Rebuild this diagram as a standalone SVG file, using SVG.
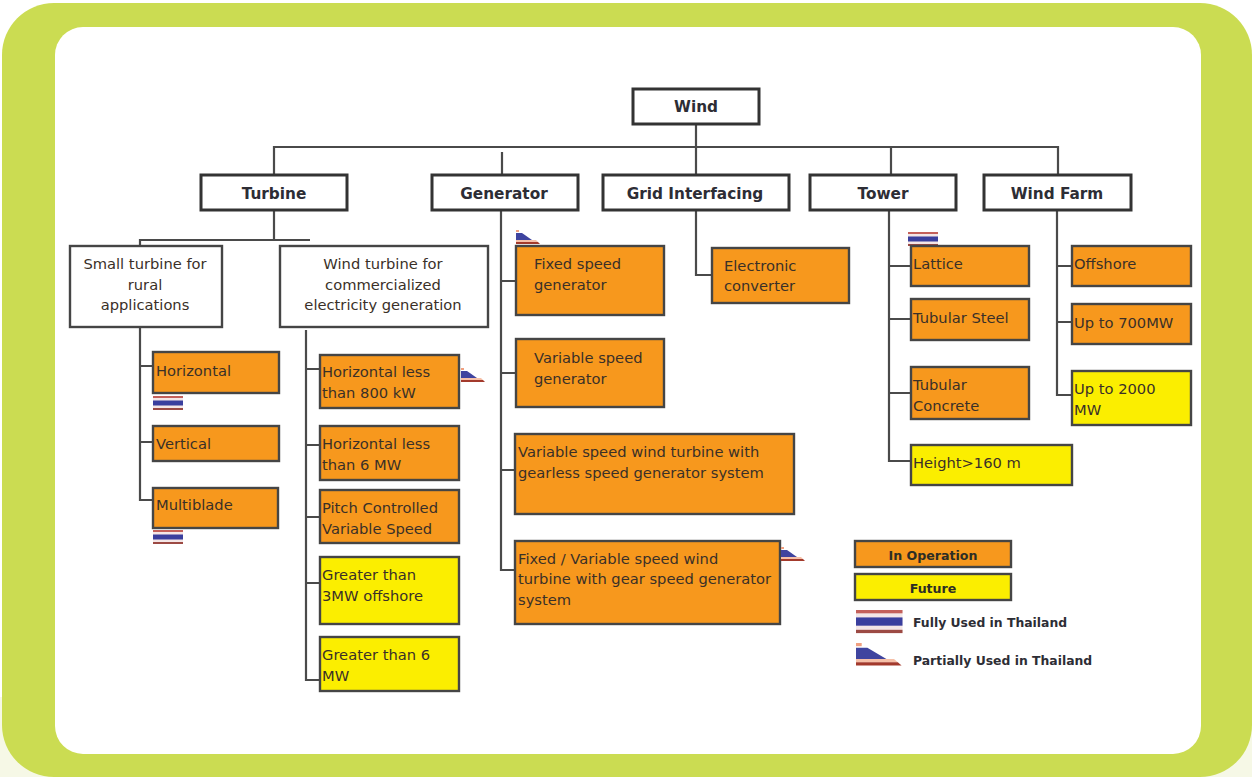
<svg xmlns="http://www.w3.org/2000/svg" width="1252" height="777" viewBox="0 0 1252 777">
<style>
text{font-family:"DejaVu Sans","Liberation Sans",sans-serif;font-size:14.7px;fill:#3a3028}
.b{stroke:#454545;stroke-width:2.4}
.t{stroke:#333;stroke-width:3}
.w{fill:#fff}.o{fill:#f7981d}.y{fill:#fbee00}
.h{font-weight:bold;font-size:15.3px;fill:#2d2d35;text-anchor:middle}
.c{text-anchor:middle}
.l{font-weight:bold;font-size:12.4px;fill:#2d2d35}
.m{text-anchor:middle;font-weight:bold;font-size:12.6px;fill:#2d2d25}
#conn path{fill:none;stroke:#4a4a4a;stroke-width:2.2}
</style>
<defs>
<g id="full"><rect width="30" height="14" fill="#f4e6e6"/><rect width="30" height="2" fill="#c4605a"/><rect y="4.5" width="30" height="5" fill="#3a3f9e"/><rect y="12" width="30" height="2" fill="#9c4a44"/></g>
<g id="part"><path d="M0 0h3v2h-3z" fill="#f0a080"/><path d="M0 3h6l10 7H0z" fill="#3f449f"/><path d="M0 10h20l2 2H0z" fill="#f6c0a8"/><path d="M0 12h22l2 2H0z" fill="#a33a2c"/></g>
</defs>
<rect width="1252" height="777" fill="#fff"/>
<rect y="697" width="1252" height="80" fill="#f6f8e6"/>
<rect x="2" y="3" width="1250" height="774" rx="52" fill="#cbdc52"/>
<rect x="55" y="27" width="1146" height="727" rx="28" fill="#fff"/>
<g id="conn">
<path d="M696 124V174M274 174V147H1058V174M502 152V174M891 147V174"/>
<path d="M274 211V240M140 245V240H310"/>
<path d="M140 327V500H153M140 366H153M140 442H153"/>
<path d="M306 330V680H320M306 369H320M306 445H320M306 517H320M306 583H320"/>
<path d="M501 211V570H515M501 281H516M501 373H516M501 470H515"/>
<path d="M696 211V275H712"/>
<path d="M889 211V461H911M889 266H912M889 319H912M889 393H912"/>
<path d="M1057 211V395H1072M1057 266H1072M1057 322H1072"/>
</g>
<g id="wind"><rect class="w t" x="633" y="89" width="126" height="35"/><text class="h" x="696" y="112">Wind</text></g>
<g id="turbine"><rect class="w t" x="201" y="175" width="146" height="35"/><text class="h" x="274" y="199">Turbine</text></g>
<g id="generator"><rect class="w t" x="432" y="175" width="146" height="35"/><text class="h" x="504" y="199">Generator</text></g>
<g id="grid"><rect class="w t" x="603" y="175" width="186" height="35"/><text class="h" x="695" y="199">Grid Interfacing</text></g>
<g id="tower"><rect class="w t" x="810" y="175" width="146" height="35"/><text class="h" x="883" y="199">Tower</text></g>
<g id="farm"><rect class="w t" x="984" y="175" width="147" height="35"/><text class="h" x="1057" y="199">Wind Farm</text></g>
<g id="small"><rect class="w b" x="70" y="246" width="152" height="81"/><text class="c" x="145" y="269">Small turbine for</text><text class="c" x="145" y="290">rural</text><text class="c" x="145" y="310">applications</text></g>
<g id="commercial"><rect class="w b" x="280" y="246" width="208" height="81"/><text class="c" x="383" y="269">Wind turbine for</text><text class="c" x="383" y="290">commercialized</text><text class="c" x="383" y="310">electricity generation</text></g>
<g id="horizontal"><rect class="o b" x="153" y="352" width="126" height="41"/><text x="156" y="376">Horizontal</text></g>
<use href="#full" x="153" y="396"/>
<g id="vertical"><rect class="o b" x="153" y="426" width="126" height="35"/><text x="156" y="449">Vertical</text></g>
<g id="multiblade"><rect class="o b" x="153" y="488" width="125" height="40"/><text x="156" y="510">Multiblade</text></g>
<use href="#full" x="153" y="530"/>
<g id="h800"><rect class="o b" x="320" y="355" width="139" height="53"/><text x="322" y="377">Horizontal less</text><text x="322" y="398">than 800 kW</text></g>
<use href="#part" x="461" y="368"/>
<g id="h6"><rect class="o b" x="320" y="426" width="139" height="54"/><text x="322" y="449">Horizontal less</text><text x="322" y="470">than 6 MW</text></g>
<g id="pitch"><rect class="o b" x="320" y="490" width="139" height="53"/><text x="322" y="513">Pitch Controlled</text><text x="322" y="534">Variable Speed</text></g>
<g id="g3"><rect class="y b" x="320" y="557" width="139" height="67"/><text x="322" y="580">Greater than</text><text x="322" y="601">3MW offshore</text></g>
<g id="g6"><rect class="y b" x="320" y="637" width="139" height="54"/><text x="322" y="660">Greater than 6</text><text x="322" y="681">MW</text></g>
<use href="#part" x="516" y="230"/>
<g id="fixed"><rect class="o b" x="516" y="246" width="148" height="69"/><text x="534" y="269">Fixed speed</text><text x="534" y="290">generator</text></g>
<g id="variable"><rect class="o b" x="516" y="339" width="148" height="68"/><text x="534" y="363">Variable speed</text><text x="534" y="384">generator</text></g>
<g id="gearless"><rect class="o b" x="515" y="434" width="279" height="80"/><text x="518" y="457">Variable speed wind turbine with</text><text x="518" y="478">gearless speed generator system</text></g>
<g id="gear"><rect class="o b" x="515" y="541" width="265" height="83"/><text x="518" y="564">Fixed / Variable speed wind</text><text x="518" y="584">turbine with gear speed generator</text><text x="518" y="605">system</text></g>
<use href="#part" x="781" y="547"/>
<g id="electronic"><rect class="o b" x="712" y="248" width="137" height="55"/><text x="724" y="271">Electronic</text><text x="724" y="291">converter</text></g>
<use href="#full" x="908" y="232"/>
<g id="lattice"><rect class="o b" x="911" y="246" width="118" height="40"/><text x="913" y="269">Lattice</text></g>
<g id="steel"><rect class="o b" x="911" y="299" width="118" height="41"/><text x="913" y="323">Tubular Steel</text></g>
<g id="concrete"><rect class="o b" x="911" y="367" width="118" height="52"/><text x="913" y="390">Tubular</text><text x="913" y="411">Concrete</text></g>
<g id="height"><rect class="y b" x="911" y="445" width="161" height="40"/><text x="913" y="468">Height&gt;160 m</text></g>
<g id="offshore"><rect class="o b" x="1072" y="246" width="119" height="40"/><text x="1074" y="269">Offshore</text></g>
<g id="up700"><rect class="o b" x="1072" y="304" width="119" height="40"/><text x="1074" y="328">Up to 700MW</text></g>
<g id="up2000"><rect class="y b" x="1072" y="371" width="119" height="54"/><text x="1074" y="394">Up to 2000</text><text x="1074" y="415">MW</text></g>
<g id="legend">
<rect class="o b" x="855" y="541" width="156" height="26"/><text class="m" x="933" y="560">In Operation</text>
<rect class="y b" x="855" y="574" width="156" height="26"/><text class="m" x="933" y="593">Future</text>
<use href="#full" transform="translate(856 610) scale(1.55 1.65)"/>
<text class="l" x="913" y="627">Fully Used in  Thailand</text>
<use href="#part" transform="translate(856 643) scale(1.9 1.6)"/>
<text class="l" x="913" y="665">Partially Used in Thailand</text>
</g>
</svg>
